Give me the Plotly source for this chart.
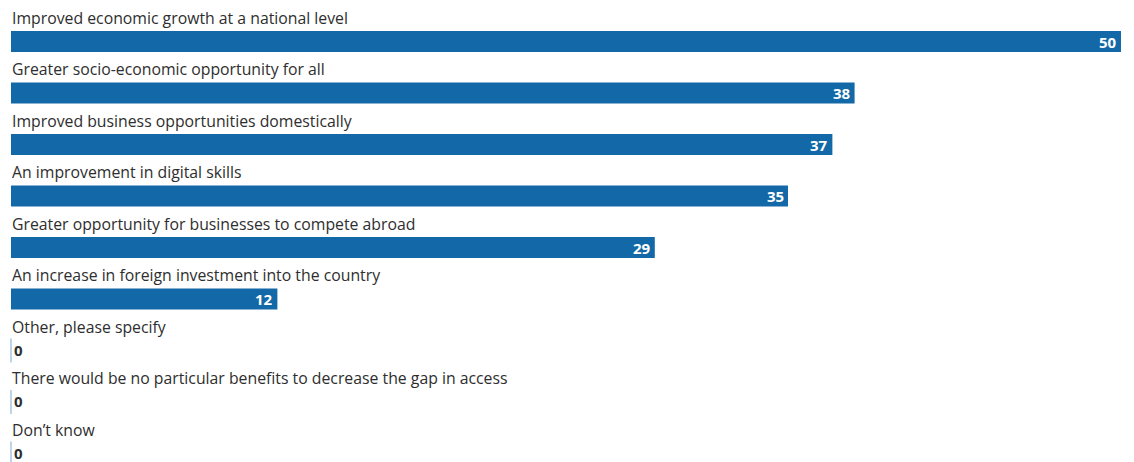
import plotly.graph_objects as go

categories = [
    "Improved economic growth at a national level",
    "Greater socio-economic opportunity for all",
    "Improved business opportunities domestically",
    "An improvement in digital skills",
    "Greater opportunity for businesses to compete abroad",
    "An increase in foreign investment into the country",
    "Other, please specify",
    "There would be no particular benefits to decrease the gap in access",
    "Don\u2019t know",
]
values = [50, 38, 37, 35, 29, 12, 0, 0, 0]

BAR = "#1369a8"
ZERO = "#a9c6e0"
TEXT = "#2e2e2e"
FONT = "Open Sans"

idx = list(range(len(categories)))
bar_w = 0.41

fig = go.Figure(
    go.Bar(
        x=values,
        y=idx,
        orientation="h",
        width=bar_w,
        marker=dict(color=BAR, line=dict(width=0)),
        hoverinfo="skip",
    )
)

annotations = []
shapes = []
for i, (cat, v) in enumerate(zip(categories, values)):
    annotations.append(dict(
        x=0, y=i, xref="x", yref="y", text=cat, showarrow=False,
        xanchor="left", yanchor="middle", xshift=-1, yshift=24,
        font=dict(family=FONT, size=15.8, color=TEXT),
    ))
    if v > 0:
        annotations.append(dict(
            x=v, y=i, xref="x", yref="y", text=f"<b>{v}</b>", showarrow=False,
            xanchor="right", yanchor="middle", xshift=-2,
            font=dict(family=FONT, size=15, color="white"),
        ))
    else:
        # zero values: a thin tick at the baseline plus a dark label
        shapes.append(dict(
            type="line", xref="x", yref="y", x0=v, x1=v,
            y0=i - bar_w / 2 - 0.03, y1=i + bar_w / 2 + 0.03,
            line=dict(color=ZERO, width=1.5),
        ))
        annotations.append(dict(
            x=v, y=i, xref="x", yref="y", text=f"<b>{v}</b>", showarrow=False,
            xanchor="left", yanchor="middle", xshift=2, yshift=1, borderpad=0,
            font=dict(family=FONT, size=15, color=TEXT),
        ))

fig.update_layout(
    width=1134, height=462,
    margin=dict(l=0, r=0, t=0, b=0),
    paper_bgcolor="white", plot_bgcolor="white",
    showlegend=False,
    xaxis=dict(range=[-0.495, 50.586], visible=False, fixedrange=True),
    yaxis=dict(range=[8.165, -0.806], visible=False, fixedrange=True),
    annotations=annotations,
    shapes=shapes,
)

fig.write_html("out.html")
